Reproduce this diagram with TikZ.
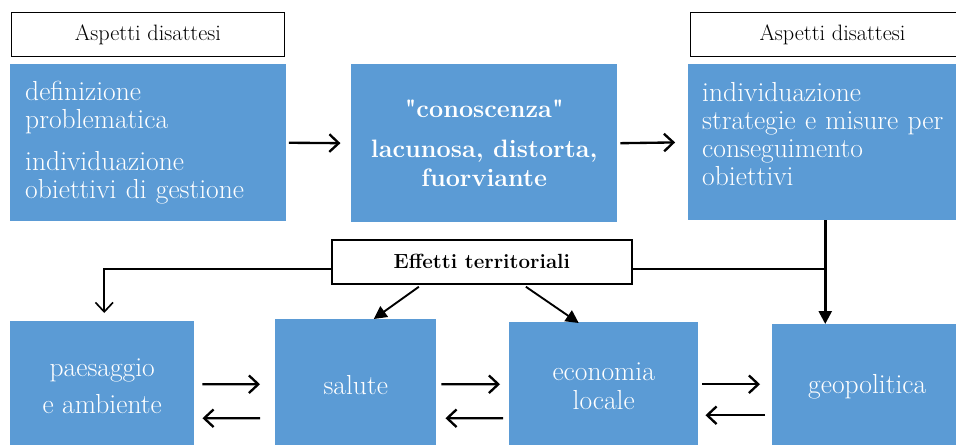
\documentclass[tikz,border=0pt]{standalone}
\usepackage{fontspec}
\usetikzlibrary{positioning,calc,arrows.meta}
\definecolor{boxblue}{RGB}{91,155,213}
\tikzset{
  blu/.style={fill=boxblue,text=white,anchor=north west,inner sep=0pt},
  tag/.style={draw=black,line width=.8pt,fill=white,anchor=north west,inner sep=0pt,minimum height=1.32cm,font=\fontsize{19}{22}\selectfont},
  barb/.style={line width=2pt,-{Straight Barb[length=8pt,width=15pt,line width=2pt]}},
  tri/.style={line width=1.6pt,-{Triangle[length=11pt,width=11pt]}}
}

\begin{document}
\begin{tikzpicture}[x=0.03cm,y=-0.03cm]
		\useasboundingbox (0,0) rectangle (956,444);
		\clip (0,0) rectangle (956,444);
		
		% riga superiore
		\node[tag,minimum width=8.19cm] (t1) at (11,12) {Aspetti disattesi};
		\node[tag,minimum width=8.52cm] (t2) at (690,12) {Aspetti disattesi};
		
		\node[blu,minimum height=4.71cm,inner xsep=.45cm,text width=7.38cm,align=left,
		      font=\fontsize{23.5}{24}\selectfont] (b1) at (10,64)
		  {definizione\\problematica\\[12pt]individuazione\\obiettivi di gestione};
		\node[blu,minimum width=7.98cm,minimum height=4.74cm,align=center,
		      font=\bfseries\fontsize{21.5}{25}\selectfont] (b2) at (351,64)
		  {\textquotedbl conoscenza\textquotedbl\\[9pt]lacunosa, distorta,\\fuorviante};
		\node[blu,minimum height=4.68cm,inner xsep=.42cm,text width=7.38cm,align=left,
		      font=\fontsize{23.5}{24}\selectfont] (b3) at (688,64)
		  {individuazione\\strategie e misure per\\conseguimento\\obiettivi\\[-10pt]\mbox{}};
		
		\draw[barb,shorten <=2pt,shorten >=9pt] (b1.east) -- (b2.west);
		\draw[barb,shorten <=2.5pt,shorten >=11pt] (b2.east) -- (b3.west);
		
		% effetti
		\node[draw=black,line width=1.5pt,fill=white,anchor=north west,inner sep=0pt,
		      minimum width=9cm,minimum height=1.32cm,font=\bfseries\fontsize{17.5}{20}\selectfont] (eff) at (331,239)
		  {Effetti territoriali};
		
		% riga inferiore
		\node[blu,minimum width=5.52cm,minimum height=3.9cm,align=center,
		      font=\fontsize{23.5}{31.5}\selectfont] (pa) at (10,321) {paesaggio\\e ambiente};
		\node[blu,minimum width=4.83cm,minimum height=3.96cm,
		      font=\fontsize{23.5}{24}\selectfont] (sa) at (275,319) {salute};
		\node[blu,minimum width=5.67cm,minimum height=3.84cm,align=center,
		      font=\fontsize{23.5}{24}\selectfont] (ec) at (509,322) {economia\\locale};
		\node[blu,minimum width=5.7cm,minimum height=3.78cm,
		      font=\fontsize{23.5}{24}\selectfont] (geo) at (772,324) {geopolitica};
		
		\coordinate (jn) at ($(b3.south |- eff.east)+(0,7)$);
		\draw[line width=1.4pt,-{Straight Barb[length=8pt,width=15pt,line width=1.4pt]}]
		  ($(eff.west)+(0,7)$) -| ($(pa.north)+(2,-8)$);
		\draw[line width=1.4pt] ($(eff.east)+(0,7)$) -- (jn);
		\draw[tri,line width=2.2pt] (b3.south) -- (b3.south |- geo.north);
		\draw[tri] ($(eff.south)+(-63,2)$) -- ($(sa.north)+(18,0)$);
		\draw[tri] ($(eff.south)+(44,2)$) -- ($(ec.north)+(-25,1)$);
		
		\draw[barb] ($(pa.east)+(8,-2)$) -- ($(sa.west)+(-15,-1)$);
		\draw[barb] ($(sa.west)+(-15,33)$) -- ($(pa.east)+(8,32)$);
		\draw[barb] ($(sa.east)+(5,-1)$) -- ($(ec.west)+(-9,-2)$);
		\draw[barb] ($(ec.west)+(-6,32)$) -- ($(sa.east)+(9,33)$);
		\draw[barb] ($(ec.east)+(4,-2)$) -- ($(geo.west)+(-12,-3)$);
		\draw[barb] ($(geo.west)+(-7,28)$) -- ($(ec.east)+(7,29)$);
	\end{tikzpicture}
\end{document}
